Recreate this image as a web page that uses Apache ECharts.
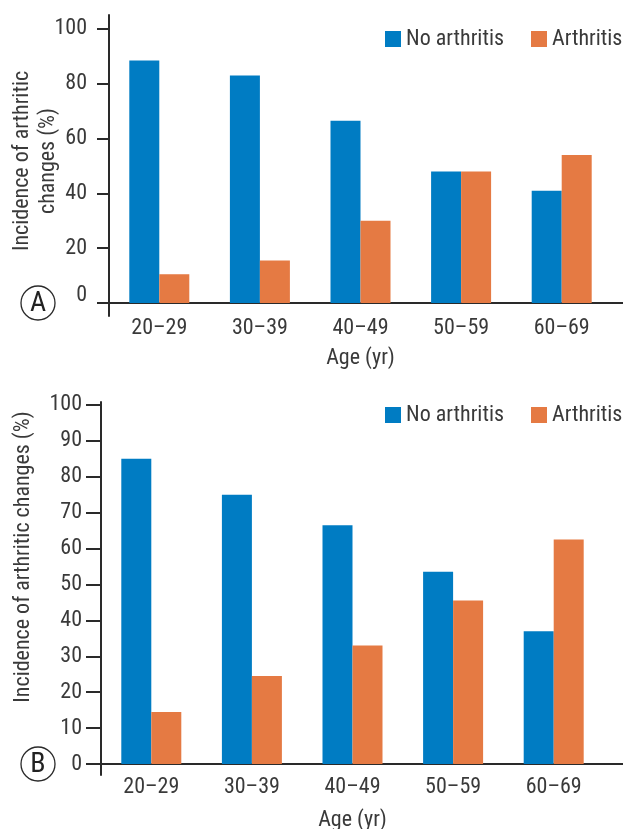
<!DOCTYPE html>
<html>
<head>
<meta charset="utf-8">
<script src="https://cdn.jsdelivr.net/npm/echarts@6/dist/echarts.min.js"></script>
<style>
  html, body { margin: 0; padding: 0; background: #fff; }
  #chart { width: 625px; height: 829px; }
</style>
</head>
<body>
<div id="chart"></div>
<script>
// ---- data ----
const categories = ['20–29', '30–39', '40–49', '50–59', '60–69'];
const seriesNames = ['No arthritis', 'Arthritis'];
const noArthritisA = [88.5, 83, 66.5, 48, 41];
const arthritisA = [10.5, 15.5, 30, 48, 54];
const noArthritisB = [85, 75, 66.5, 53.5, 37];
const arthritisB = [14.5, 24.5, 33, 45.5, 62.5];
const ticksA = [0, 20, 40, 60, 80, 100];
const ticksB = [0, 10, 20, 30, 40, 50, 60, 70, 80, 90, 100];
const yNameA = 'Incidence of arthritic\nchanges (%)';
const yNameB = 'Incidence of arthritic changes (%)';
const xName = 'Age (yr)';
const panelLetters = ['A', 'B'];

// ---- style ----
const FONT = '"Roboto Condensed", "Liberation Sans", Arial, sans-serif';
const FS = 22;
const TEXT = '#3a3a3a';
const AXIS = '#2a2a2a';
const BLUE = '#007cc3';
const ORANGE = '#e57a43';

const chart = echarts.init(document.getElementById('chart'), null, { renderer: 'canvas' });

function yAxisCfg(gridIndex, min, max, ticks, name, gap, nameGap, tickLen, nameShift, zeroLift) {
  return {
    type: 'value', gridIndex: gridIndex, min: min, max: max,
    name: name, nameLocation: 'middle', nameGap: nameGap, nameRotate: 90,
    nameMoveOverlap: false,
    nameTextStyle: { fontFamily: FONT, fontSize: FS, color: TEXT, lineHeight: 26,
                     padding: [0, 0, 0, nameShift] },
    axisLine: { show: true, lineStyle: { color: AXIS, width: 2 } },
    axisTick: { show: true, length: tickLen, customValues: ticks, lineStyle: { color: AXIS, width: 2 } },
    axisLabel: {
      customValues: ticks, margin: gap, fontFamily: FONT, fontSize: FS, color: TEXT,
      formatter: function (v) { return (zeroLift && v === 0) ? '{z|0}' : String(v); },
      rich: { z: { fontFamily: FONT, fontSize: FS, color: TEXT, padding: [0, 0, 16, 0] } }
    },
    splitLine: { show: false }
  };
}

function xAxisCfg(gridIndex, labelMargin, nameGap) {
  return {
    type: 'category', gridIndex: gridIndex, data: categories,
    name: xName, nameLocation: 'middle', nameGap: nameGap,
    nameTextStyle: { fontFamily: FONT, fontSize: FS, color: TEXT },
    axisLine: { show: true, onZero: true, lineStyle: { color: AXIS, width: 2 } },
    axisTick: { show: false },
    axisLabel: { margin: labelMargin, fontFamily: FONT, fontSize: FS, color: TEXT, interval: 0 },
    splitLine: { show: false }
  };
}

function barSeries(name, data, idx, color) {
  return {
    name: name, type: 'bar', data: data, xAxisIndex: idx, yAxisIndex: idx,
    barWidth: 30, barGap: '0%', itemStyle: { color: color },
    emphasis: { disabled: true }, animation: false
  };
}

function legendCfg(top) {
  return {
    data: seriesNames, left: 385, top: top, width: 300, icon: 'rect',
    itemWidth: 16, itemHeight: 16, itemGap: 27, padding: 0,
    textStyle: { fontFamily: FONT, fontSize: FS, color: TEXT },
    selectedMode: false
  };
}

function circledLetter(cx, cy, letter) {
  return [
    { type: 'circle', shape: { cx: cx, cy: cy, r: 17 }, style: { fill: '#fff', stroke: AXIS, lineWidth: 1.3 }, z: 10 },
    { type: 'text', x: cx, y: cy + 1, style: { text: letter, fontFamily: FONT, fontSize: 28, fill: '#222', align: 'center', verticalAlign: 'middle' }, z: 11 }
  ];
}

const option = {
  backgroundColor: '#fff',
  animation: false,
  grid: [
    { left: 109, top: 15, width: 503, height: 301, containLabel: false, outerBoundsMode: 'none' },
    { left: 101, top: 402, width: 503, height: 373, containLabel: false, outerBoundsMode: 'none' }
  ],
  legend: [legendCfg(28), legendCfg(404)],
  xAxis: [xAxisCfg(0, 1, 31), xAxisCfg(1, 1, 34)],
  yAxis: [
    yAxisCfg(0, -4.74, 105.1, ticksA, yNameA, 22, 48, 12, 9, true),
    yAxisCfg(1, -3.06, 100.8, ticksB, yNameB, 19, 65, 15, 63, false)
  ],
  series: [
    barSeries(seriesNames[0], noArthritisA, 0, BLUE),
    barSeries(seriesNames[1], arthritisA, 0, ORANGE),
    barSeries(seriesNames[0], noArthritisB, 1, BLUE),
    barSeries(seriesNames[1], arthritisB, 1, ORANGE)
  ]
};
chart.setOption(option);

// extend the x-axis baselines to the right edge and add the panel letters
const zeroA = chart.convertToPixel({ gridIndex: 0 }, [categories[4], 0]);
const zeroB = chart.convertToPixel({ gridIndex: 1 }, [categories[4], 0]);
chart.setOption({
  graphic: [
    { type: 'line', shape: { x1: 612, y1: zeroA[1], x2: 623, y2: zeroA[1] }, style: { stroke: AXIS, lineWidth: 2 } },
    { type: 'line', shape: { x1: 604, y1: zeroB[1], x2: 623, y2: zeroB[1] }, style: { stroke: AXIS, lineWidth: 2 } }
  ].concat(circledLetter(38, zeroA[1], panelLetters[0]), circledLetter(38, zeroB[1], panelLetters[1]))
});
</script>
</body>
</html>
